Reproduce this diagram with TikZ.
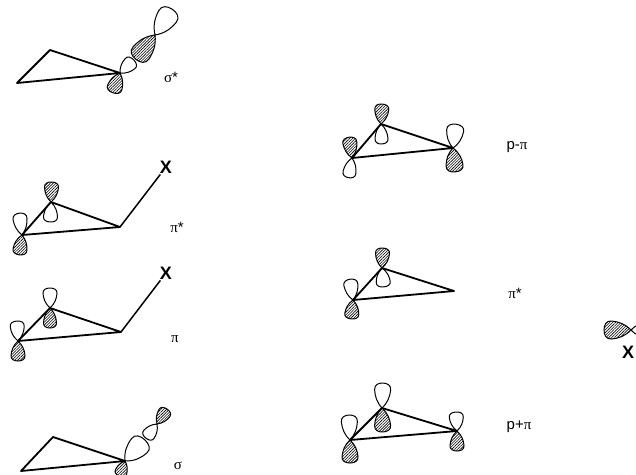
\documentclass[tikz,border=0pt]{standalone}
\usepackage{fontspec}
\setmainfont{Liberation Sans}
\newfontfamily\greekfont{Liberation Serif}
\usetikzlibrary{patterns.meta}
\tikzset{
  ring/.style={line width=1.8pt,line join=round,line cap=round},
  bond/.style={line width=1.5pt},
  whitelobe/.style={draw,line width=1pt},
  hatchlobe/.style={draw,line width=1pt,pattern={Lines[angle=45,distance=2pt,line width=.6pt]}},
  atomx/.style={font=\fontsize{18}{18}\selectfont\bfseries,inner sep=1pt},
  orblabel/.style={font=\fontsize{15}{15}\selectfont,inner sep=0pt},
}
\newcommand{\gr}[1]{{\greekfont #1}}
% apex, direction, length, width, style
\newcommand{\lobe}[5]{\draw[#5,shift={(#1)},rotate=#2]
  (0,0) .. controls ({.22*#3},{.34*#4}) and ({.45*#3},{.46*#4}) .. ({.72*#3},{.5*#4})
  .. controls ({.92*#3},{.53*#4}) and ({1.0*#3},{.28*#4}) .. (#3,0)
  .. controls ({1.0*#3},{-.28*#4}) and ({.92*#3},{-.53*#4}) .. ({.72*#3},{-.5*#4})
  .. controls ({.45*#3},{-.46*#4}) and ({.22*#3},{-.34*#4}) .. (0,0) -- cycle;}

\begin{document}
\begin{tikzpicture}[x=1pt,y=-1pt]
\useasboundingbox (0,0) rectangle (636,474);

% sigma star
\coordinate (a1) at (17,83);
\coordinate (b1) at (50,50);
\coordinate (c1) at (120,73);
\coordinate (d1) at (155,35);
\lobe{c1}{250}{21}{15}{hatchlobe}
\lobe{c1}{43}{19}{14}{whitelobe}
\lobe{d1}{232}{31}{20}{hatchlobe}
\lobe{d1}{56}{31}{21}{whitelobe}
\draw[ring] (a1) -- (b1) -- (c1) -- cycle;
\node[orblabel] (l1) at (171,77) {\gr{σ}*};

% pi star, with X
\coordinate (a2) at (22,235);
\coordinate (b2) at (51,202);
\coordinate (c2) at (120,227);
\lobe{a2}{97}{22}{14}{whitelobe}
\lobe{a2}{262}{20}{14}{hatchlobe}
\lobe{b2}{88}{20}{14}{hatchlobe}
\lobe{b2}{268}{20}{14}{whitelobe}
\draw[ring] (a2) -- (b2) -- (c2) -- cycle;
\node[atomx] (x2) at (166,167) {X};
\draw[bond] (c2) -- (x2);
\node[orblabel] (l2) at (177,227) {\gr{π}*};

% pi, with X
\coordinate (a3) at (18,341);
\coordinate (b3) at (50,308);
\coordinate (c3) at (121,332);
\lobe{a3}{93}{20}{14}{whitelobe}
\lobe{a3}{270}{20}{14}{hatchlobe}
\lobe{b3}{90}{20}{14}{whitelobe}
\lobe{b3}{270}{20}{13}{hatchlobe}
\draw[ring] (a3) -- (b3) -- (c3) -- cycle;
\node[atomx] (x3) at (166,273) {X};
\draw[bond] (c3) -- (x3);
\node[orblabel] (l3) at (175,339) {\gr{π}};

% sigma
\coordinate (a4) at (21,471);
\coordinate (b4) at (53,437);
\coordinate (c4) at (125,461);
\coordinate (d4) at (157,424);
\lobe{c4}{250}{16}{12}{hatchlobe}
\lobe{c4}{47}{29}{21}{whitelobe}
\lobe{d4}{232}{18}{13}{whitelobe}
\lobe{d4}{56}{18}{13}{hatchlobe}
\draw[ring] (a4) -- (b4) -- (c4) -- cycle;
\node[orblabel] (l4) at (178,466) {\gr{σ}};

% p minus pi
\coordinate (a5) at (352,158);
\coordinate (b5) at (381,124);
\coordinate (c5) at (453,148);
\lobe{a5}{98}{21}{14}{hatchlobe}
\lobe{a5}{260}{20}{13}{whitelobe}
\lobe{b5}{87}{20}{14}{hatchlobe}
\lobe{b5}{272}{20}{13}{whitelobe}
\lobe{c5}{83}{24}{17}{whitelobe}
\lobe{c5}{275}{24}{17}{hatchlobe}
\draw[ring] (a5) -- (b5) -- (c5) -- cycle;
\node[orblabel] (l5) at (517,147) {p-\gr{π}};

% pi star, two centres
\coordinate (a6) at (353,300);
\coordinate (b6) at (382,268);
\coordinate (c6) at (454,291);
\lobe{a6}{98}{21}{14}{whitelobe}
\lobe{a6}{265}{19}{14}{hatchlobe}
\lobe{b6}{88}{20}{14}{hatchlobe}
\lobe{b6}{275}{19}{14}{whitelobe}
\draw[ring] (a6) -- (b6) -- (c6) -- cycle;
\node[orblabel] (l6) at (515,293) {\gr{π}*};

% p plus pi
\coordinate (a7) at (350,440);
\coordinate (b7) at (382,408);
\coordinate (c7) at (457,431);
\lobe{a7}{92}{25}{16}{whitelobe}
\lobe{a7}{270}{23}{16}{hatchlobe}
\lobe{b7}{88}{25}{16}{whitelobe}
\lobe{b7}{272}{24}{16}{hatchlobe}
\lobe{c7}{93}{19}{14}{whitelobe}
\lobe{c7}{270}{20}{14}{hatchlobe}
\draw[ring] (a7) -- (b7) -- (c7) -- cycle;
\node[orblabel] (l7) at (519,427) {p+\gr{π}};

% X fragment at the edge
\coordinate (e8) at (631,330);
\lobe{e8}{180}{27}{18}{hatchlobe}
\lobe{e8}{0}{20}{14}{whitelobe}
\node[atomx] (x8) at (628,352) {X};

\end{tikzpicture}
\end{document}
